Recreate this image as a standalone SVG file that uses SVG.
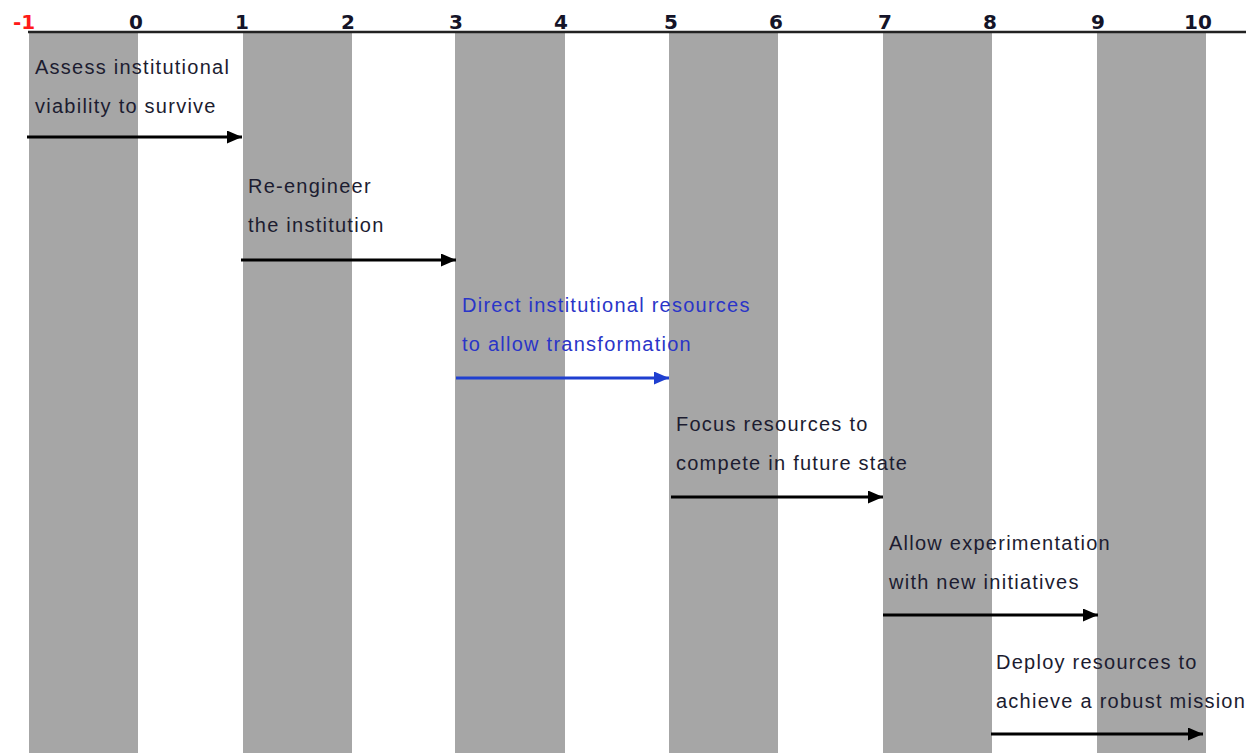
<svg xmlns="http://www.w3.org/2000/svg" width="1246" height="753" viewBox="0 0 1246 753">
<style>
.band{fill:#a6a6a6}
.tick{font-family:"DejaVu Sans",Verdana,sans-serif;font-weight:bold;font-size:20px;fill:#141428;text-anchor:middle}
.lbl{font-family:"Liberation Sans",Arial,sans-serif;font-size:20px;letter-spacing:1.25px;fill:#1c1c30}
.blue{fill:#2a35c8}
.arr{stroke:#000;stroke-width:3;fill:none}
.arrb{stroke:#1f3fd0;stroke-width:3;fill:none}
</style>
<defs>
<marker id="ah" viewBox="0 0 15 13" refX="15" refY="6.5" markerWidth="15" markerHeight="13" markerUnits="userSpaceOnUse" orient="auto">
<path d="M0,0 L15,6.5 L0,13 Z" fill="#000"/>
</marker>
<marker id="ahb" viewBox="0 0 15 13" refX="15" refY="6.5" markerWidth="15" markerHeight="13" markerUnits="userSpaceOnUse" orient="auto">
<path d="M0,0 L15,6.5 L0,13 Z" fill="#1f3fd0"/>
</marker>
</defs>
<rect width="1246" height="753" fill="#fff"/>
<g id="bands">
<rect class="band" x="29" y="33" width="109" height="720"/>
<rect class="band" x="243" y="33" width="109" height="720"/>
<rect class="band" x="455" y="33" width="110" height="720"/>
<rect class="band" x="669" y="33" width="109" height="720"/>
<rect class="band" x="883" y="33" width="109" height="720"/>
<rect class="band" x="1097" y="33" width="109" height="720"/>
</g>
<g id="axis">
<line x1="28" y1="32" x2="1246" y2="32" stroke="#222" stroke-width="2.5"/>
<text class="tick" x="24" y="29" style="fill:#ff1a1a">-1</text>
<text class="tick" x="136" y="29">0</text>
<text class="tick" x="242" y="29">1</text>
<text class="tick" x="348" y="29">2</text>
<text class="tick" x="456" y="29">3</text>
<text class="tick" x="561" y="29">4</text>
<text class="tick" x="671" y="29">5</text>
<text class="tick" x="776" y="29">6</text>
<text class="tick" x="885" y="29">7</text>
<text class="tick" x="990" y="29">8</text>
<text class="tick" x="1098" y="29">9</text>
<text class="tick" x="1198" y="29">10</text>
</g>
<g id="step1">
<text class="lbl" x="35" y="74">Assess institutional</text>
<text class="lbl" x="35" y="113">viability to survive</text>
</g>
<g id="step2">
<text class="lbl" x="248" y="193">Re-engineer</text>
<text class="lbl" x="248" y="232">the institution</text>
</g>
<g id="step3">
<text class="lbl blue" x="462" y="312">Direct institutional resources</text>
<text class="lbl blue" x="462" y="351">to allow transformation</text>
</g>
<g id="step4">
<text class="lbl" x="676" y="431">Focus resources to</text>
<text class="lbl" x="676" y="470">compete in future state</text>
</g>
<g id="step5">
<text class="lbl" x="889" y="550">Allow experimentation</text>
<text class="lbl" x="889" y="589">with new initiatives</text>
</g>
<g id="step6">
<text class="lbl" x="996" y="669">Deploy resources to</text>
<text class="lbl" x="996" y="708">achieve a robust mission</text>
</g>
<g id="connectors">
<line class="arr" x1="27" y1="137" x2="242" y2="137" marker-end="url(#ah)"/>
<line class="arr" x1="241" y1="260" x2="456" y2="260" marker-end="url(#ah)"/>
<line class="arrb" x1="456" y1="378" x2="669" y2="378" marker-end="url(#ahb)"/>
<line class="arr" x1="671" y1="497" x2="883" y2="497" marker-end="url(#ah)"/>
<line class="arr" x1="883" y1="615" x2="1098" y2="615" marker-end="url(#ah)"/>
<line class="arr" x1="991" y1="734" x2="1203" y2="734" marker-end="url(#ah)"/>
</g>
</svg>
